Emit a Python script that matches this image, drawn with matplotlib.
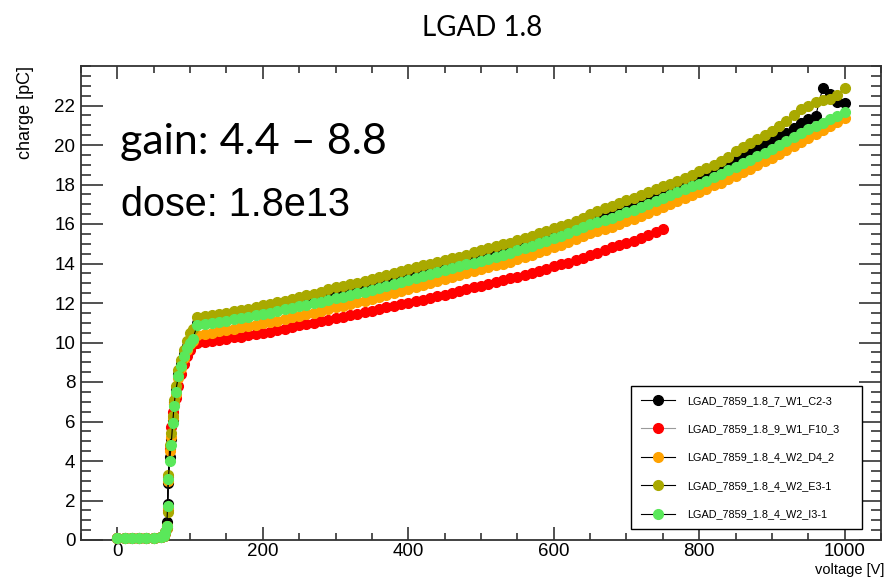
import numpy as np
import matplotlib
matplotlib.use('Agg')
import matplotlib.pyplot as plt
from matplotlib.ticker import MultipleLocator

##=========================================================
# Collected charge vs bias voltage, LGAD 1.8 sensors
##=========================================================

# voltage points: fine steps through the gain-layer depletion, 10 V after
v_low = [0, 10, 20, 30, 40, 50, 60, 64, 66, 68, 69, 70, 72, 74, 76, 78, 80,
         84, 88, 92, 96, 100, 104]
v_high = list(range(110, 1010, 10))
v_red = list(range(110, 760, 10))

names = ['LGAD_7859_1.8_7_W1_C2-3', 'LGAD_7859_1.8_9_W1_F10_3',
         'LGAD_7859_1.8_4_W2_D4_2', 'LGAD_7859_1.8_4_W2_E3-1',
         'LGAD_7859_1.8_4_W2_I3-1']

# charge [pC]
q_c23_low = [0.1, 0.1, 0.1, 0.1, 0.1, 0.1, 0.15, 0.2, 0.4, 0.9, 1.8, 2.9, 4.2,
             5.1, 6.1, 7.0, 7.6, 8.4, 8.9, 9.4, 9.8, 10.1, 10.4]
q_c23_high = [11.0, 11.1, 11.15, 11.2, 11.25, 11.3, 11.4, 11.45, 11.5, 11.6,
              11.65, 11.75, 11.8, 11.9, 12.0, 12.1, 12.15, 12.25, 12.35, 12.45,
              12.5, 12.6, 12.7, 12.8, 12.9, 13.0, 13.05, 13.15, 13.25, 13.35,
              13.45, 13.55, 13.65, 13.75, 13.85, 13.95, 14.05, 14.15, 14.25, 14.35,
              14.45, 14.55, 14.65, 14.75, 14.85, 14.95, 15.1, 15.2, 15.3, 15.45,
              15.55, 15.7, 15.8, 15.95, 16.1, 16.25, 16.35, 16.5, 16.65, 16.8,
              16.9, 17.05, 17.2, 17.35, 17.5, 17.65, 17.8, 17.95, 18.1, 18.3,
              18.45, 18.6, 18.8, 19.0, 19.2, 19.4, 19.6, 19.8, 20.0, 20.2,
              20.4, 20.6, 20.85, 21.1, 21.3, 21.45, 22.9, 22.6, 22.2, 22.15]

q_f10_low = [0.1, 0.1, 0.1, 0.1, 0.1, 0.1, 0.15, 0.2, 0.35, 0.6, 1.5, 3.2, 4.6,
             5.7, 6.5, 6.9, 7.2, 7.8, 8.4, 8.9, 9.3, 9.6, 9.9]
q_f10_high = [10.0, 10.05, 10.1, 10.15, 10.2, 10.3, 10.3, 10.4, 10.45, 10.5,
              10.55, 10.65, 10.7, 10.8, 10.9, 10.95, 11.0, 11.1, 11.15, 11.25,
              11.3, 11.4, 11.45, 11.55, 11.6, 11.7, 11.8, 11.85, 11.95, 12.0,
              12.1, 12.15, 12.25, 12.35, 12.4, 12.5, 12.6, 12.7, 12.8, 12.85,
              12.95, 13.05, 13.15, 13.25, 13.3, 13.4, 13.5, 13.6, 13.7, 13.85,
              13.95, 14.05, 14.2, 14.3, 14.45, 14.55, 14.7, 14.85, 14.95, 15.05,
              15.15, 15.3, 15.45, 15.6, 15.75]

q_d42_low = [0.1, 0.1, 0.1, 0.1, 0.1, 0.1, 0.15, 0.2, 0.4, 0.7, 1.6, 3.0, 4.5,
             5.2, 6.2, 6.9, 7.4, 8.2, 8.7, 9.2, 9.6, 9.9, 10.1]
q_d42_high = [10.4, 10.45, 10.5, 10.6, 10.65, 10.7, 10.8, 10.85, 10.9, 11.0,
              11.05, 11.1, 11.2, 11.3, 11.35, 11.45, 11.5, 11.6, 11.7, 11.8,
              11.85, 11.95, 12.05, 12.1, 12.2, 12.3, 12.4, 12.5, 12.6, 12.7,
              12.8, 12.9, 13.0, 13.1, 13.2, 13.3, 13.4, 13.5, 13.6, 13.7,
              13.8, 13.9, 14.0, 14.1, 14.25, 14.35, 14.45, 14.6, 14.7, 14.85,
              14.95, 15.1, 15.25, 15.4, 15.55, 15.65, 15.75, 15.85, 16.0, 16.15,
              16.25, 16.4, 16.55, 16.7, 16.85, 17.0, 17.15, 17.3, 17.45, 17.6,
              17.75, 17.95, 18.1, 18.3, 18.45, 18.65, 18.8, 19.0, 19.2, 19.35,
              19.55, 19.75, 19.95, 20.15, 20.35, 20.55, 20.75, 20.95, 21.15, 21.35]

q_e31_low = [0.1, 0.1, 0.1, 0.1, 0.1, 0.1, 0.15, 0.2, 0.35, 0.6, 1.4, 3.3, 4.8,
             5.4, 6.3, 7.1, 7.8, 8.6, 9.1, 9.6, 10.1, 10.5, 10.7]
q_e31_high = [11.3, 11.35, 11.4, 11.45, 11.5, 11.6, 11.65, 11.7, 11.8, 11.9,
              11.95, 12.05, 12.1, 12.2, 12.3, 12.4, 12.45, 12.55, 12.7, 12.8,
              12.85, 12.95, 13.0, 13.1, 13.2, 13.3, 13.4, 13.5, 13.6, 13.7,
              13.8, 13.9, 14.0, 14.1, 14.2, 14.3, 14.35, 14.45, 14.6, 14.7,
              14.8, 14.9, 15.0, 15.05, 15.2, 15.3, 15.4, 15.55, 15.65, 15.8,
              15.9, 16.0, 16.15, 16.3, 16.5, 16.65, 16.8, 16.9, 17.05, 17.2,
              17.3, 17.45, 17.6, 17.75, 17.9, 18.05, 18.2, 18.35, 18.5, 18.7,
              18.85, 19.0, 19.2, 19.4, 19.7, 19.9, 20.1, 20.3, 20.5, 20.7,
              20.95, 21.2, 21.5, 21.8, 21.95, 22.2, 22.3, 22.35, 22.55, 22.9]

q_i31_low = [0.1, 0.1, 0.1, 0.1, 0.1, 0.1, 0.15, 0.2, 0.4, 0.7, 1.7, 3.1, 4.0,
             4.8, 5.9, 6.8, 7.5, 8.3, 8.8, 9.3, 9.7, 10.0, 10.2]
q_i31_high = [10.9, 10.95, 11.0, 11.05, 11.1, 11.2, 11.25, 11.3, 11.4, 11.45,
              11.5, 11.6, 11.7, 11.75, 11.85, 11.9, 12.0, 12.05, 12.15, 12.25,
              12.3, 12.4, 12.5, 12.55, 12.65, 12.75, 12.85, 12.95, 13.05, 13.15,
              13.25, 13.35, 13.45, 13.55, 13.65, 13.75, 13.85, 13.95, 14.05, 14.15,
              14.25, 14.35, 14.45, 14.55, 14.7, 14.8, 14.9, 15.05, 15.15, 15.3,
              15.4, 15.55, 15.7, 15.85, 16.0, 16.1, 16.2, 16.3, 16.45, 16.6,
              16.7, 16.85, 17.0, 17.15, 17.3, 17.45, 17.6, 17.75, 17.9, 18.05,
              18.2, 18.4, 18.55, 18.75, 18.9, 19.1, 19.25, 19.45, 19.6, 19.8,
              20.0, 20.2, 20.4, 20.6, 20.8, 20.95, 21.1, 21.3, 21.45, 21.65]

series = [(v_low + v_high, q_c23_low + q_c23_high, '#000000', '#000000'),
          (v_low + v_red, q_f10_low + q_f10_high, '#ff0000', '#9a9a9a'),
          (v_low + v_high, q_d42_low + q_d42_high, '#ffa200', '#000000'),
          (v_low + v_high, q_e31_low + q_e31_high, '#a9a900', '#000000'),
          (v_low + v_high, q_i31_low + q_i31_high, '#5ae85a', '#000000')]

##=========================================================
# Plot
##=========================================================
fig = plt.figure(figsize=(8.85, 5.77), dpi=100)
ax = fig.add_axes([81/885, 37/577, 800/885, 474/577])

for (v, q, c, lc), name in zip(series, names):
    ax.plot(v, q, color=lc, lw=0.8, marker='o', ms=7, mfc=c, mec=c,
            label=name, clip_on=False, zorder=3)

ax.set_xlim(-50, 1050)
ax.set_ylim(0, 24)
ax.xaxis.set_major_locator(MultipleLocator(200))
ax.xaxis.set_minor_locator(MultipleLocator(50))
ax.yaxis.set_major_locator(MultipleLocator(2))
ax.yaxis.set_minor_locator(MultipleLocator(0.5))
ax.set_yticks(np.arange(0, 23, 2))
ax.tick_params(which='both', direction='in', top=True, right=True,
               labelsize=13.5, width=1.1, color='#222222')
ax.tick_params(axis='x', which='major', length=9.5, pad=2.5)
ax.tick_params(axis='x', which='minor', length=5)
ax.tick_params(axis='y', which='major', length=16, pad=4)
ax.tick_params(axis='y', which='minor', length=7)
for lab in ax.get_xticklabels() + ax.get_yticklabels():
    lab.set_family('Liberation Sans')
for s in ax.spines.values():
    s.set_linewidth(1.3)
    s.set_color('#333333')

leg = ax.legend(loc='lower left', bbox_to_anchor=(0.6875, 0.023, 0.289, 0.314),
                mode='expand', borderaxespad=0, fancybox=False, framealpha=1,
                edgecolor='black', labelspacing=1.7,
                handlelength=3.2, handletextpad=1.1, borderpad=0.9,
                prop={'family': 'Liberation Sans', 'size': 7.8})
leg.get_frame().set_linewidth(1.0)

fig.text(25/885, 1 - 66/577, 'charge [pC]', rotation=90, ha='center', va='top',
         family='Liberation Sans', fontsize=13)
fig.text(884/885, 0, 'voltage [V]', ha='right', va='bottom',
         family='Liberation Sans', fontsize=10.5)
fig.text(482/885, 1 - 28/577, 'LGAD 1.8', ha='center', va='center',
         family='Lato', fontsize=20)

ax.text(120/885, 1 - 142/577, 'gain: 4.4 \u2013 8.8', transform=fig.transFigure,
        ha='left', va='center', family='Lato', fontsize=31)
ax.text(121/885, 1 - 205/577, 'dose: 1.8e13', transform=fig.transFigure,
        ha='left', va='center', family='Liberation Sans', fontsize=28.5)

plt.savefig('out.png', dpi=100)
